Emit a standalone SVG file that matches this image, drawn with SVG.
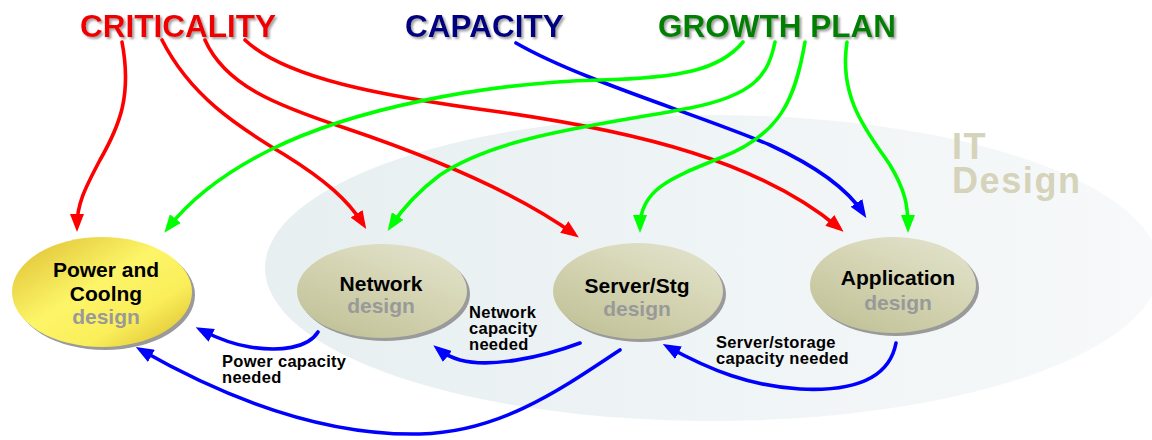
<svg xmlns="http://www.w3.org/2000/svg" width="1152" height="440" viewBox="0 0 1152 440">
<defs>
<linearGradient id="bg" x1="0" y1="0" x2="1" y2="0">
<stop offset="0" stop-color="#e7eff1"/>
<stop offset="1" stop-color="#f7f9fa"/>
</linearGradient>
<linearGradient id="olive" x1="0.15" y1="1" x2="0.85" y2="0">
<stop offset="0" stop-color="#c0c096"/>
<stop offset="0.6" stop-color="#d6d6b6"/>
<stop offset="1" stop-color="#e2e2cc"/>
</linearGradient>
<linearGradient id="yellow" x1="0" y1="0" x2="1" y2="1">
<stop offset="0" stop-color="#dcbc30"/>
<stop offset="0.45" stop-color="#fdf568"/>
<stop offset="0.7" stop-color="#faee5a"/>
<stop offset="1" stop-color="#d8b828"/>
</linearGradient>
<filter id="tshadow" x="-5%" y="-20%" width="115%" height="150%">
<feDropShadow dx="2" dy="2" stdDeviation="0.8" flood-color="#8c8c8c" flood-opacity="0.8"/>
</filter>
<marker id="ar" markerUnits="userSpaceOnUse" markerWidth="18" markerHeight="14" viewBox="0 0 18 14" refX="12" refY="7" orient="auto"><path d="M0,0 L18,7 L0,14 z" fill="#ff0000"/></marker>
<marker id="ag" markerUnits="userSpaceOnUse" markerWidth="18" markerHeight="14" viewBox="0 0 18 14" refX="12" refY="7" orient="auto"><path d="M0,0 L18,7 L0,14 z" fill="#00ff00"/></marker>
<marker id="ab" markerUnits="userSpaceOnUse" markerWidth="18" markerHeight="14" viewBox="0 0 18 14" refX="12" refY="7" orient="auto"><path d="M0,0 L18,7 L0,14 z" fill="#0000ff"/></marker>
</defs>
<style>
.title{font-family:"Liberation Sans",Arial,sans-serif;font-weight:bold;font-size:31.5px;filter:url(#tshadow)}
.nt{font-family:"Liberation Sans",Arial,sans-serif;font-weight:bold;font-size:21px;fill:#000;text-anchor:middle}
.nd{font-family:"Liberation Sans",Arial,sans-serif;font-weight:bold;font-size:21px;fill:#999999;text-anchor:middle}
.lbl{font-family:"Liberation Sans",Arial,sans-serif;font-weight:bold;font-size:16.5px;letter-spacing:0.3px;fill:#000}
.it{font-family:"Liberation Sans",Arial,sans-serif;font-weight:bold;font-size:36px;letter-spacing:1.6px;fill:#d5d3b9}
.shadow{fill:#9a9a9a}
.c{fill:none;stroke-width:3.6;stroke-linecap:round}
.r{stroke:#ff0000;marker-end:url(#ar)}
.g{stroke:#00ff00;marker-end:url(#ag)}
.b{stroke:#0000ff;marker-end:url(#ab)}
</style>
<rect width="1152" height="440" fill="#ffffff"/>
<g id="it-design">
<ellipse cx="712" cy="268" rx="447" ry="153" fill="url(#bg)"/>
<text class="it" x="952" y="159">IT</text>
<text class="it" x="952" y="193">Design</text>
</g>
<g id="criticality"><text class="title" x="80" y="37" fill="#ee0000">CRITICALITY</text></g>
<g id="capacity"><text class="title" x="405" y="37" fill="#000080">CAPACITY</text></g>
<g id="growth-plan"><text class="title" x="658" y="37" fill="#008000">GROWTH PLAN</text></g>
<g id="power">
<ellipse class="shadow" cx="105" cy="295" rx="90" ry="55"/>
<ellipse cx="102" cy="292" rx="90" ry="55" fill="url(#yellow)"/>
<text class="nt" x="106" y="277">Power and</text>
<text class="nt" x="106" y="301">Coolng</text>
<text class="nd" x="106" y="324">design</text>
</g>
<g id="network">
<ellipse class="shadow" cx="385" cy="294" rx="85" ry="47"/>
<ellipse cx="382" cy="291" rx="85" ry="47" fill="url(#olive)"/>
<text class="nt" x="381" y="291">Network</text>
<text class="nd" x="381" y="313">design</text>
</g>
<g id="server">
<ellipse class="shadow" cx="641" cy="294" rx="85" ry="48"/>
<ellipse cx="638" cy="291" rx="85" ry="48" fill="url(#olive)"/>
<text class="nt" x="637" y="293">Server/Stg</text>
<text class="nd" x="637" y="316">design</text>
</g>
<g id="application">
<ellipse class="shadow" cx="896" cy="288" rx="83" ry="48"/>
<ellipse cx="893" cy="285" rx="83" ry="48" fill="url(#olive)"/>
<text class="nt" x="898" y="285">Application</text>
<text class="nd" x="898" y="310">design</text>
</g>
<g id="connectors">
<path class="c r" d="M122,42 C132,95 120,125 100,160 C84,190 77,205 77,226"/>
<path class="c r" d="M162,40 C190,95 235,125 285,155 C325,180 348,200 363,224"/>
<path class="c r" d="M205,40 C225,85 275,105 345,128 C440,160 520,195 574,234"/>
<path class="c r" d="M245,40 C285,78 380,96 500,112 C640,132 760,162 839,228"/>
<path class="c b" d="M516,43 C580,80 700,115 770,145 C820,168 848,190 863,213"/>
<path class="c g" d="M743,42 C720,70 680,78 600,80 C480,83 350,110 270,150 C220,175 190,200 168,228"/>
<path class="c g" d="M775,42 C768,75 755,95 690,108 C600,125 500,135 440,175 C420,190 405,205 391,226"/>
<path class="c g" d="M805,42 C795,100 780,135 720,158 C670,178 640,190 640,227"/>
<path class="c g" d="M847,42 C838,100 870,135 890,165 C905,190 908,205 908,227"/>
<path class="c b" d="M318,332 C308,348 280,352 250,347 C230,344 215,337 201,330"/>
<path class="c b" d="M580,343 C540,358 490,368 460,360 C450,357 443,353 438,349"/>
<path class="c b" d="M620,350 C560,390 500,432 420,434 C320,436 220,395 141,350"/>
<path class="c b" d="M896,343 C890,375 860,392 800,389 C750,386 710,370 668,347"/>
<text class="lbl" x="222" y="367">Power capacity</text>
<text class="lbl" x="222" y="383">needed</text>
<text class="lbl" x="469" y="318">Network</text>
<text class="lbl" x="469" y="334">capacity</text>
<text class="lbl" x="469" y="350">needed</text>
<text class="lbl" x="716" y="348">Server/storage</text>
<text class="lbl" x="716" y="364">capacity needed</text>
</g>
</svg>
